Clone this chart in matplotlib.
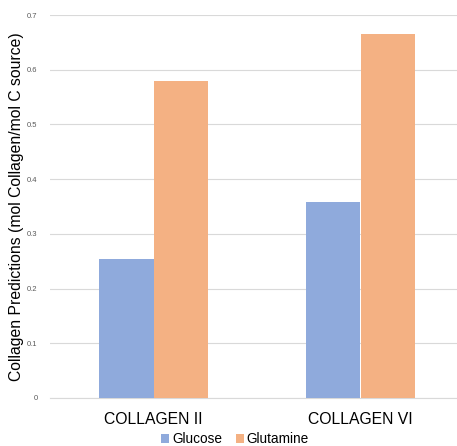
import matplotlib
matplotlib.use("Agg")
import matplotlib.pyplot as plt
import numpy as np

plt.rcParams['font.family'] = ['Liberation Sans', 'DejaVu Sans']

categories = ["COLLAGEN II", "COLLAGEN VI"]
glucose = [0.254, 0.359]
glutamine = [0.579, 0.665]
yticks = [0, 0.1, 0.2, 0.3, 0.4, 0.5, 0.6, 0.7]

fig = plt.figure(figsize=(4.57, 4.46), dpi=100)
# axes runs a bit past the right edge, like the original export
ax = fig.add_axes([50/457, 48/446, 414/457, 383/446])

x = np.arange(len(categories))
w = 0.262
ax.bar(x - w/2, glucose, w, color="#8faadc", label="Glucose", zorder=3)
ax.bar(x + w/2, glutamine, w, color="#f4b183", label="Glutamine", zorder=3)

ax.set_xlim(-0.5, 1.5)
ax.set_ylim(0, 0.7)
ax.set_yticks(yticks)
ax.set_yticklabels(["0"] + [f"{v:.1f}" for v in yticks[1:]], fontsize=5.5, color="#595959")
ax.set_xticks(x)
ax.set_xticklabels(categories, fontsize=11.3, color="#000000")
ax.tick_params(axis='both', length=0)
ax.tick_params(axis='x', pad=10)
ax.tick_params(axis='y', pad=9)
ax.grid(axis='y', color="#d9d9d9", linewidth=0.8, zorder=0)
for s in ["top", "right", "left"]:
    ax.spines[s].set_visible(False)
ax.spines["bottom"].set_color("#d9d9d9")

ax.set_ylabel("Collagen Predictions (mol Collagen/mol C source)", fontsize=11.3)
ax.yaxis.set_label_coords(-26/414, 0.5)

fig.legend(loc="center", bbox_to_anchor=(235/457, 1 - 439/446), ncol=2, frameon=False,
           fontsize=9.8, handlelength=0.6, handleheight=0.6, handletextpad=0.2,
           columnspacing=1.0, borderpad=0)

fig.savefig("out.png", dpi=100)
